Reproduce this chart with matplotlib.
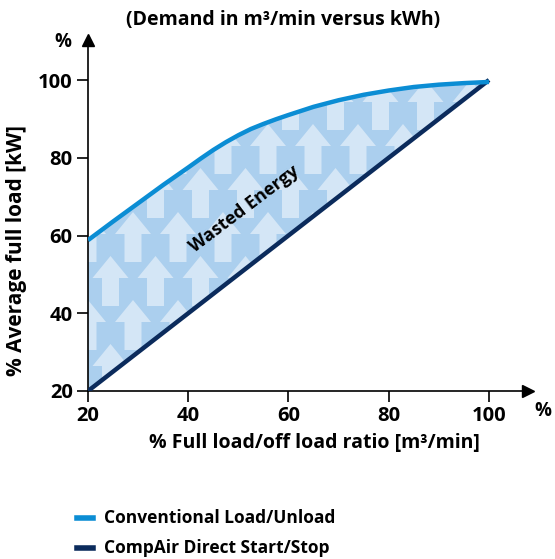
import numpy as np
import matplotlib
matplotlib.use("Agg")
import matplotlib.pyplot as plt
from matplotlib.patches import Polygon
from matplotlib.collections import PatchCollection

# data
load_ratio = [20, 25, 30, 35, 40, 42.5, 45, 47.5, 50, 52.5, 55, 57.5, 60, 65, 70, 75, 80, 85, 90, 95, 100]
conventional = [58.8, 63.6, 68.3, 73.0, 77.5, 79.8, 82.0, 84.0, 85.8, 87.4, 88.7, 89.9, 91.0, 93.1,
                94.8, 96.2, 97.3, 98.2, 98.8, 99.2, 99.5]
direct_x = [20, 100]
direct_y = [20, 100]
ticks = [20, 40, 60, 80, 100]

c_conv = "#0B8DD4"
c_direct = "#0B2B5C"
c_fill = "#ABCFEE"
c_arrow = "#D4E6F6"

plt.rcParams["font.family"] = ["Open Sans", "DejaVu Sans"]
plt.rcParams["font.weight"] = "bold"

fig = plt.figure(figsize=(5.55, 5.59), dpi=100)
ax = fig.add_axes([88 / 555, 168 / 559, 440 / 555, 351 / 559])
xmax = 20 + 440 * 80 / 401
ymax = 20 + 351 * 80 / 311
ax.set_xlim(20, xmax)
ax.set_ylim(20, ymax)

# wasted energy region
upper = np.array(conventional)
lower = np.interp(load_ratio, direct_x, direct_y)
verts = list(zip(load_ratio, upper)) + list(zip(load_ratio[::-1], lower[::-1]))
region = Polygon(verts, closed=True, facecolor=c_fill, edgecolor="none", zorder=1)
ax.add_patch(region)

# arrow pattern (pixel sizes converted to data units)
ux, uy = 80 / 401, 80 / 311
arrows = []
for r in range(-3, 8):
    tip_py = 168 + 44 * (r - 1)
    off = 22.5 if r % 2 else 0
    for c in range(-3, 12):
        tip_px = 223 + off + 45 * (c - 3)
        pts_px = [(0, 0), (18, 22), (8.5, 22), (8.5, 50), (-8.5, 50), (-8.5, 22), (-18, 22)]
        pts = [(20 + (tip_px + dx - 88) * ux, 20 + (391 - tip_py - dy) * uy) for dx, dy in pts_px]
        arrows.append(Polygon(pts, closed=True))
pc = PatchCollection(arrows, facecolor=c_arrow, edgecolor="none", zorder=2)
ax.add_collection(pc)
pc.set_clip_path(region)

ax.plot(direct_x, direct_y, color=c_direct, lw=3.2, zorder=3, solid_capstyle="butt")
ax.plot(load_ratio, conventional, color=c_conv, lw=3.2, zorder=4, solid_capstyle="butt")

ax.text(51.1, 66.8, "Wasted Energy", rotation=37, fontsize=13, fontweight="bold",
        ha="center", va="center", zorder=5)

# axes styling
for s in ["top", "right"]:
    ax.spines[s].set_visible(False)
for s in ["left", "bottom"]:
    ax.spines[s].set_linewidth(1.2)
ax.set_xticks(ticks)
ax.set_yticks(ticks)
ax.tick_params(direction="out", length=8, width=1.2, labelsize=14.5, pad=3)
for lab in ax.get_xticklabels() + ax.get_yticklabels():
    lab.set_fontweight("bold")
ax.plot(1, 0, marker=">", color="black", markersize=9, transform=ax.transAxes, clip_on=False)
ax.plot(0, 1, marker="^", color="black", markersize=9, transform=ax.transAxes, clip_on=False)

fig.text(63 / 555, 1 - 42 / 559, "%", fontsize=13.5, fontweight="bold", ha="center", va="center")
fig.text(543 / 555, 1 - 411 / 559, "%", fontsize=13.5, fontweight="bold", ha="center", va="center")

fig.text(283 / 555, 1 - 20 / 559, "(Demand in m³/min versus kWh)", fontsize=14,
         fontweight="bold", ha="center", va="center")
fig.text(314 / 555, 1 - 443 / 559, "% Full load/off load ratio [m³/min]", fontsize=14,
         fontweight="bold", ha="center", va="center")
fig.text(17 / 555, 1 - 251 / 559, "% Average full load [kW]", fontsize=15,
         fontweight="bold", ha="center", va="center", rotation=90)

# legend
for yy, col, lab in [(518, c_conv, "Conventional Load/Unload"),
                     (548, c_direct, "CompAir Direct Start/Stop")]:
    fig.add_artist(plt.Line2D([77 / 555, 93 / 555], [1 - yy / 559] * 2, color=col, lw=4))
    fig.text(104 / 555, 1 - yy / 559, lab, fontsize=12.5, fontweight="bold",
             ha="left", va="center")

fig.savefig("out.png", dpi=100)
